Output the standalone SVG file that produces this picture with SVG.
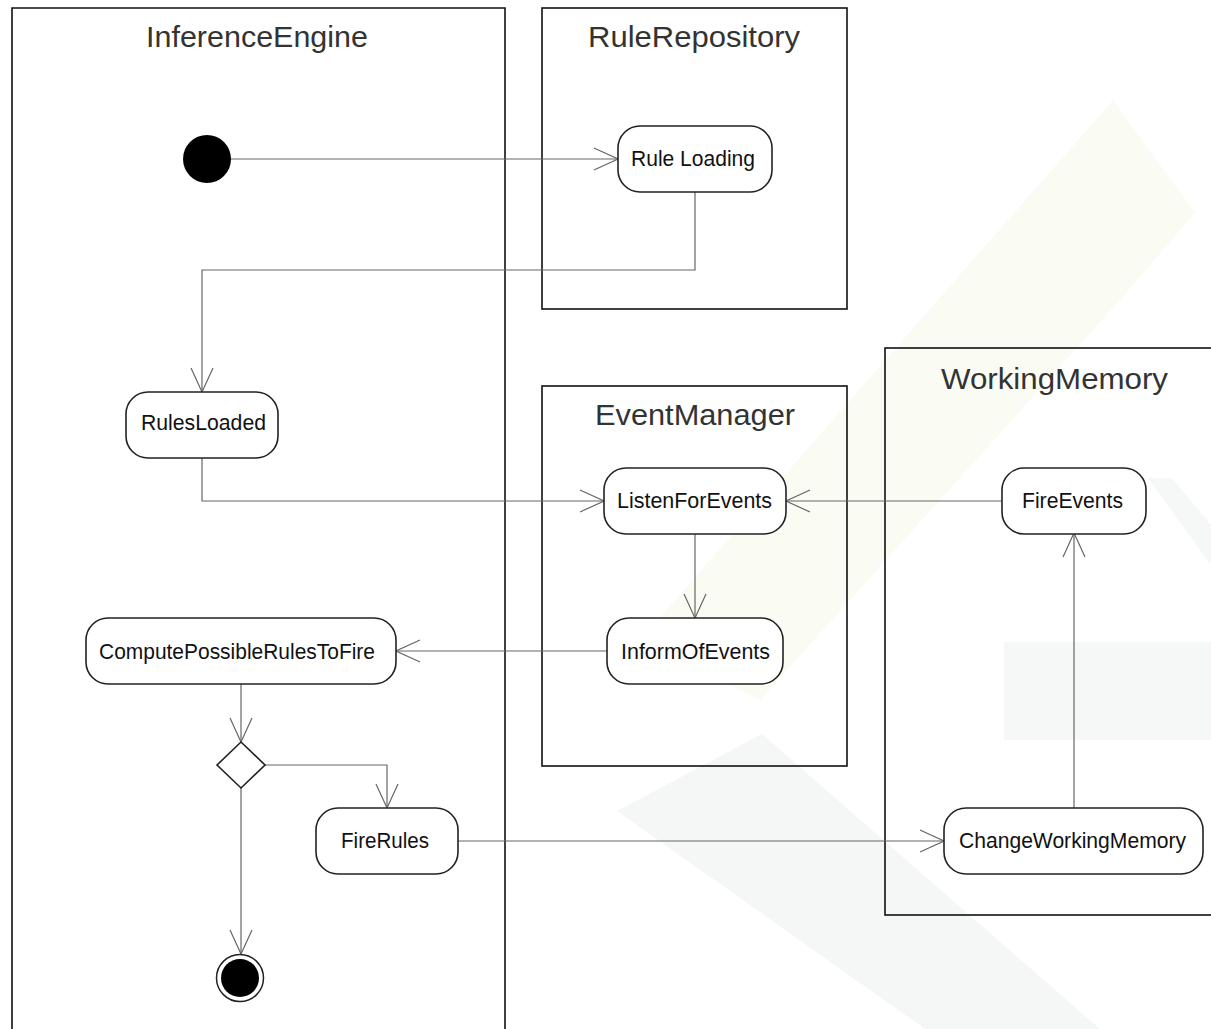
<svg xmlns="http://www.w3.org/2000/svg" width="1211" height="1029" viewBox="0 0 1211 1029">
  <style>
    .lane { fill: none; stroke: #111; stroke-width: 1.6; }
    .title { font-family: "Liberation Sans", Arial, sans-serif; font-size: 30px; fill: #333; text-anchor: middle; }
    .act { fill: #fff; stroke: #222; stroke-width: 1.6; }
    .label { font-family: "Liberation Sans", Arial, sans-serif; font-size: 22px; fill: #111; text-anchor: middle; }
    .edge { fill: none; stroke: #666; stroke-width: 1.2; marker-end: url(#open); }
  </style>
  <defs>
    <marker id="open" viewBox="-25 -12 26 24" refX="0" refY="0" markerWidth="26" markerHeight="24" markerUnits="userSpaceOnUse" orient="auto">
      <path d="M-24,-11 L0,0 L-24,11" fill="none" stroke="#666" stroke-width="1.2"/>
    </marker>
  </defs>
  <rect width="1211" height="1029" fill="#fff"/>
  <g id="watermark">
    <polygon points="1113,100 1195,213 1120,300 760,700 640,640" fill="#fafcf4"/>
    <polygon points="617,811 762,734 1100,1029 925,1029" fill="#f5f7f7"/>
    <rect x="1004" y="642" width="207" height="98" fill="#f6f8f8"/>
    <polygon points="1148,478 1172,478 1211,525 1211,565" fill="#f6f8f8"/>
  </g>
  <g id="lane-InferenceEngine">
    <path class="lane" d="M12,1040 V8 H505 V1040"/>
    <text class="title" x="257" y="47" textLength="222" lengthAdjust="spacingAndGlyphs">InferenceEngine</text>
  </g>
  <g id="lane-RuleRepository">
    <rect class="lane" x="542" y="8" width="305" height="301"/>
    <text class="title" x="694" y="47" textLength="212" lengthAdjust="spacingAndGlyphs">RuleRepository</text>
  </g>
  <g id="lane-EventManager">
    <rect class="lane" x="542" y="386" width="305" height="380"/>
    <text class="title" x="695" y="425" textLength="200" lengthAdjust="spacingAndGlyphs">EventManager</text>
  </g>
  <g id="lane-WorkingMemory">
    <rect class="lane" x="885" y="348" width="340" height="567"/>
    <text class="title" x="1054.5" y="389" textLength="227" lengthAdjust="spacingAndGlyphs">WorkingMemory</text>
  </g>
  <g id="connectors">
    <path class="edge" d="M231,159 H618"/>
    <path class="edge" d="M695,192 V270 H202 V392"/>
    <path class="edge" d="M202,458 V501 H604"/>
    <path class="edge" d="M1002,501 H786"/>
    <path class="edge" d="M695,534 V618"/>
    <path class="edge" d="M607,651 H396"/>
    <path class="edge" d="M241,684 V742"/>
    <path class="edge" d="M265,765 H387 V808"/>
    <path class="edge" d="M241,788 V954"/>
    <path class="edge" d="M458,841 H944"/>
    <path class="edge" d="M1074,808 V533"/>
  </g>
  <g id="start">
    <circle cx="207" cy="159" r="24" fill="#000"/>
  </g>
  <g id="RuleLoading">
    <rect class="act" x="618" y="126" width="154" height="66" rx="22"/>
    <text class="label" x="693" y="166" textLength="124" lengthAdjust="spacingAndGlyphs">Rule Loading</text>
  </g>
  <g id="RulesLoaded">
    <rect class="act" x="126" y="392" width="152" height="66" rx="22"/>
    <text class="label" x="203.5" y="430" textLength="125" lengthAdjust="spacingAndGlyphs">RulesLoaded</text>
  </g>
  <g id="ListenForEvents">
    <rect class="act" x="604" y="468" width="182" height="66" rx="22"/>
    <text class="label" x="694.5" y="508" textLength="155" lengthAdjust="spacingAndGlyphs">ListenForEvents</text>
  </g>
  <g id="FireEvents">
    <rect class="act" x="1002" y="468" width="144" height="66" rx="22"/>
    <text class="label" x="1072.5" y="508" textLength="101" lengthAdjust="spacingAndGlyphs">FireEvents</text>
  </g>
  <g id="InformOfEvents">
    <rect class="act" x="607" y="618" width="176" height="66" rx="22"/>
    <text class="label" x="695.5" y="659" textLength="149" lengthAdjust="spacingAndGlyphs">InformOfEvents</text>
  </g>
  <g id="ComputePossibleRulesToFire">
    <rect class="act" x="86" y="618" width="310" height="66" rx="22"/>
    <text class="label" x="237" y="659" textLength="276" lengthAdjust="spacingAndGlyphs">ComputePossibleRulesToFire</text>
  </g>
  <g id="decision">
    <polygon class="act" points="241,742 265,765 241,788 217,765"/>
  </g>
  <g id="FireRules">
    <rect class="act" x="316" y="808" width="142" height="66" rx="22"/>
    <text class="label" x="385" y="848" textLength="88" lengthAdjust="spacingAndGlyphs">FireRules</text>
  </g>
  <g id="ChangeWorkingMemory">
    <rect class="act" x="944" y="808" width="259" height="66" rx="22"/>
    <text class="label" x="1072.5" y="848" textLength="227" lengthAdjust="spacingAndGlyphs">ChangeWorkingMemory</text>
  </g>
  <g id="end">
    <circle cx="240" cy="978" r="23.5" fill="#fff" stroke="#222" stroke-width="1.5"/>
    <circle cx="240" cy="978" r="19" fill="#000"/>
  </g>
</svg>
